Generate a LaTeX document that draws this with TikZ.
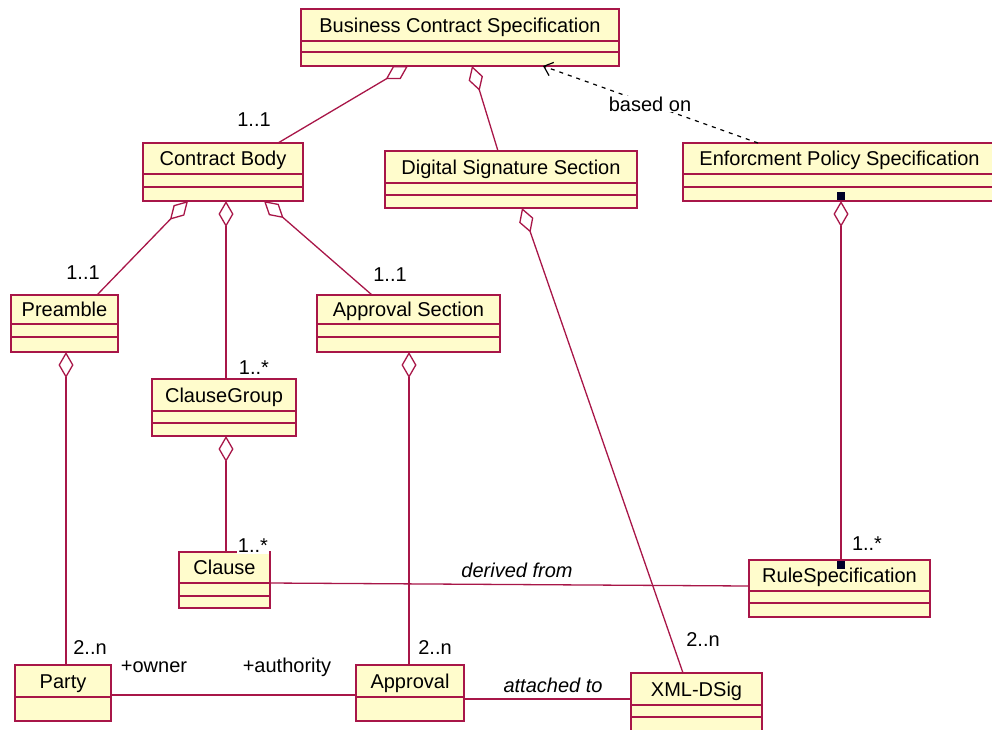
\documentclass[tikz,border=0pt]{standalone}
\usepackage{fontspec}
\setmainfont{Liberation Sans}
\usetikzlibrary{arrows.meta,calc}

\definecolor{umlred}{RGB}{168,22,72}
\definecolor{umlfill}{RGB}{255,252,204}
\definecolor{navfill}{RGB}{0,0,40}

\tikzset{
  clsbox/.style={draw=umlred, fill=umlfill, line width=1.4pt, inner sep=0pt, outer sep=0pt},
  clsname/.style={font=\fontsize{20}{23}\selectfont, inner sep=0pt, text=black, anchor=base},
  clsline/.style={draw=umlred, line width=1.4pt},
  assoc/.style={draw=umlred, line width=1.3pt},
  aggr/.style={assoc, {Diamond[open, fill=white, length=26pt, width=15pt]}-},
  mult/.style={font=\fontsize{20}{23}\selectfont, fill=white, inner sep=1pt},
  rolename/.style={font=\fontsize{20}{23}\selectfont, fill=white, inner sep=1pt},
  linkname/.style={font=\fontsize{20}{23}\selectfont\itshape, fill=white, inner sep=1pt},
  depend/.style={draw=black, line width=1.2pt, dash pattern=on 4pt off 5pt,
    -{Straight Barb[length=8pt, width=14pt]}},
  navmark/.style={fill=navfill, minimum size=8pt, inner sep=0pt, outer sep=0pt},
}

% class box: name, left, top, right, bottom, first divider, second divider (may be empty), title
\newcommand\umlclass[8]{%
  \node[clsbox, anchor=north west, minimum width={(#4)-(#2)}, minimum height={(#5)-(#3)}] (#1) at (#2,#3) {};
  \node[clsname] (#1-title) at ({(#2+#4)/2},{(#3+#6)/2+7}) {#8};
  \draw[clsline] (#2,#6) -- (#4,#6);
  \ifx\relax#7\relax\else\draw[clsline] (#2,#7) -- (#4,#7);\fi
}

\begin{document}
\begin{tikzpicture}[x=1pt, y=-1pt]
\useasboundingbox (0,0) rectangle (992,729);
\clip (0,0) rectangle (992,729);

% classes
\umlclass{bcs}{301}{9}{619}{66}{41}{52}{Business Contract Specification}
\umlclass{cb}{143}{143}{303}{201}{174}{187}{Contract Body}
\umlclass{dss}{385}{151}{637}{208}{183}{195}{Digital Signature Section}
\umlclass{eps}{683}{143}{996}{201}{174}{187}{Enforcment Policy Specification}
\umlclass{pre}{11}{295}{118}{352}{324}{337}{Preamble}
\umlclass{cg}{152}{379}{296}{436}{411}{423}{ClauseGroup}
\umlclass{aps}{317}{295}{500}{352}{324}{337}{Approval Section}
\umlclass{cl}{179}{552}{270}{608}{583}{596}{Clause}
\umlclass{rs}{749}{560}{930}{617}{591}{603}{RuleSpecification}
\umlclass{party}{15}{665}{111}{721}{697}{}{Party}
\umlclass{appr}{356}{665}{464}{721}{697}{}{Approval}
\umlclass{xml}{631}{673}{762}{735}{705}{717}{XML-DSig}

% navigability markers of the rule composition
\node[navmark, anchor=south] (eps-nav) at ([xshift=158pt, yshift=1pt]eps.south west) {};
\node[navmark, anchor=north] (rs-nav) at ([xshift=92pt, yshift=-1pt]rs.north west) {};

% aggregations
\draw[aggr] ([xshift=107pt]bcs.south west) -- ([xshift=135pt]cb.north west);
\draw[aggr] ([xshift=171pt]bcs.south west) -- ([xshift=113pt]dss.north west);
\draw[aggr] ([xshift=45pt]cb.south west) -- ([xshift=86pt]pre.north west);
\draw[aggr] ([xshift=83pt]cb.south west) -- ([xshift=74pt]cg.north west);
\draw[aggr] ([xshift=121pt]cb.south west) -- ([xshift=55pt]aps.north west);
\draw[aggr] ([xshift=137pt]dss.south west) -- ([xshift=52pt]xml.north west);
\draw[aggr] ([xshift=158pt]eps.south west) -- ([xshift=92pt]rs.north west);
\draw[aggr] ([xshift=55pt]pre.south west) -- ([xshift=51pt]party.north west);
\draw[aggr] ([xshift=74pt]cg.south west) -- ([xshift=47pt]cl.north west);
\draw[aggr] ([xshift=92pt]aps.south west) -- ([xshift=53pt]appr.north west);

% dependency
\draw[depend] ([xshift=75pt]eps.north west) -- ([xshift=242pt]bcs.south west);
\node[rolename] (based) at (650,104) {based on};

% plain associations
\draw[assoc] ([yshift=-31pt]cl.north east) -- ([yshift=-26pt]rs.north west);
\draw[assoc] ([yshift=-30pt]party.north east) -- ([yshift=-30pt]appr.north west);
\draw[assoc] ([yshift=-34pt]appr.north east) -- ([yshift=-26pt]xml.north west);

% association names and roles
\node[linkname] (derived) at (517,570) {derived from};
\node[linkname] (attached) at (553,685) {attached to};
\node[rolename] (owner) at (154,667) {+owner};
\node[rolename] (authority) at (287,667) {+authority};

% multiplicities
\node[mult] (m-cb) at (254,120) {1..1};
\node[mult] (m-pre) at (83,273) {1..1};
\node[mult] (m-aps) at (390,275) {1..1};
\node[mult] (m-cg) at (254,368) {1..*};
\node[mult] (m-cl) at (253,546) {1..*};
\node[mult] (m-rs) at (867,544) {1..*};
\node[mult] (m-party) at (90,648) {2..n};
\node[mult] (m-appr) at (435,648) {2..n};
\node[mult] (m-xml) at (703,640) {2..n};
\end{tikzpicture}
\end{document}
